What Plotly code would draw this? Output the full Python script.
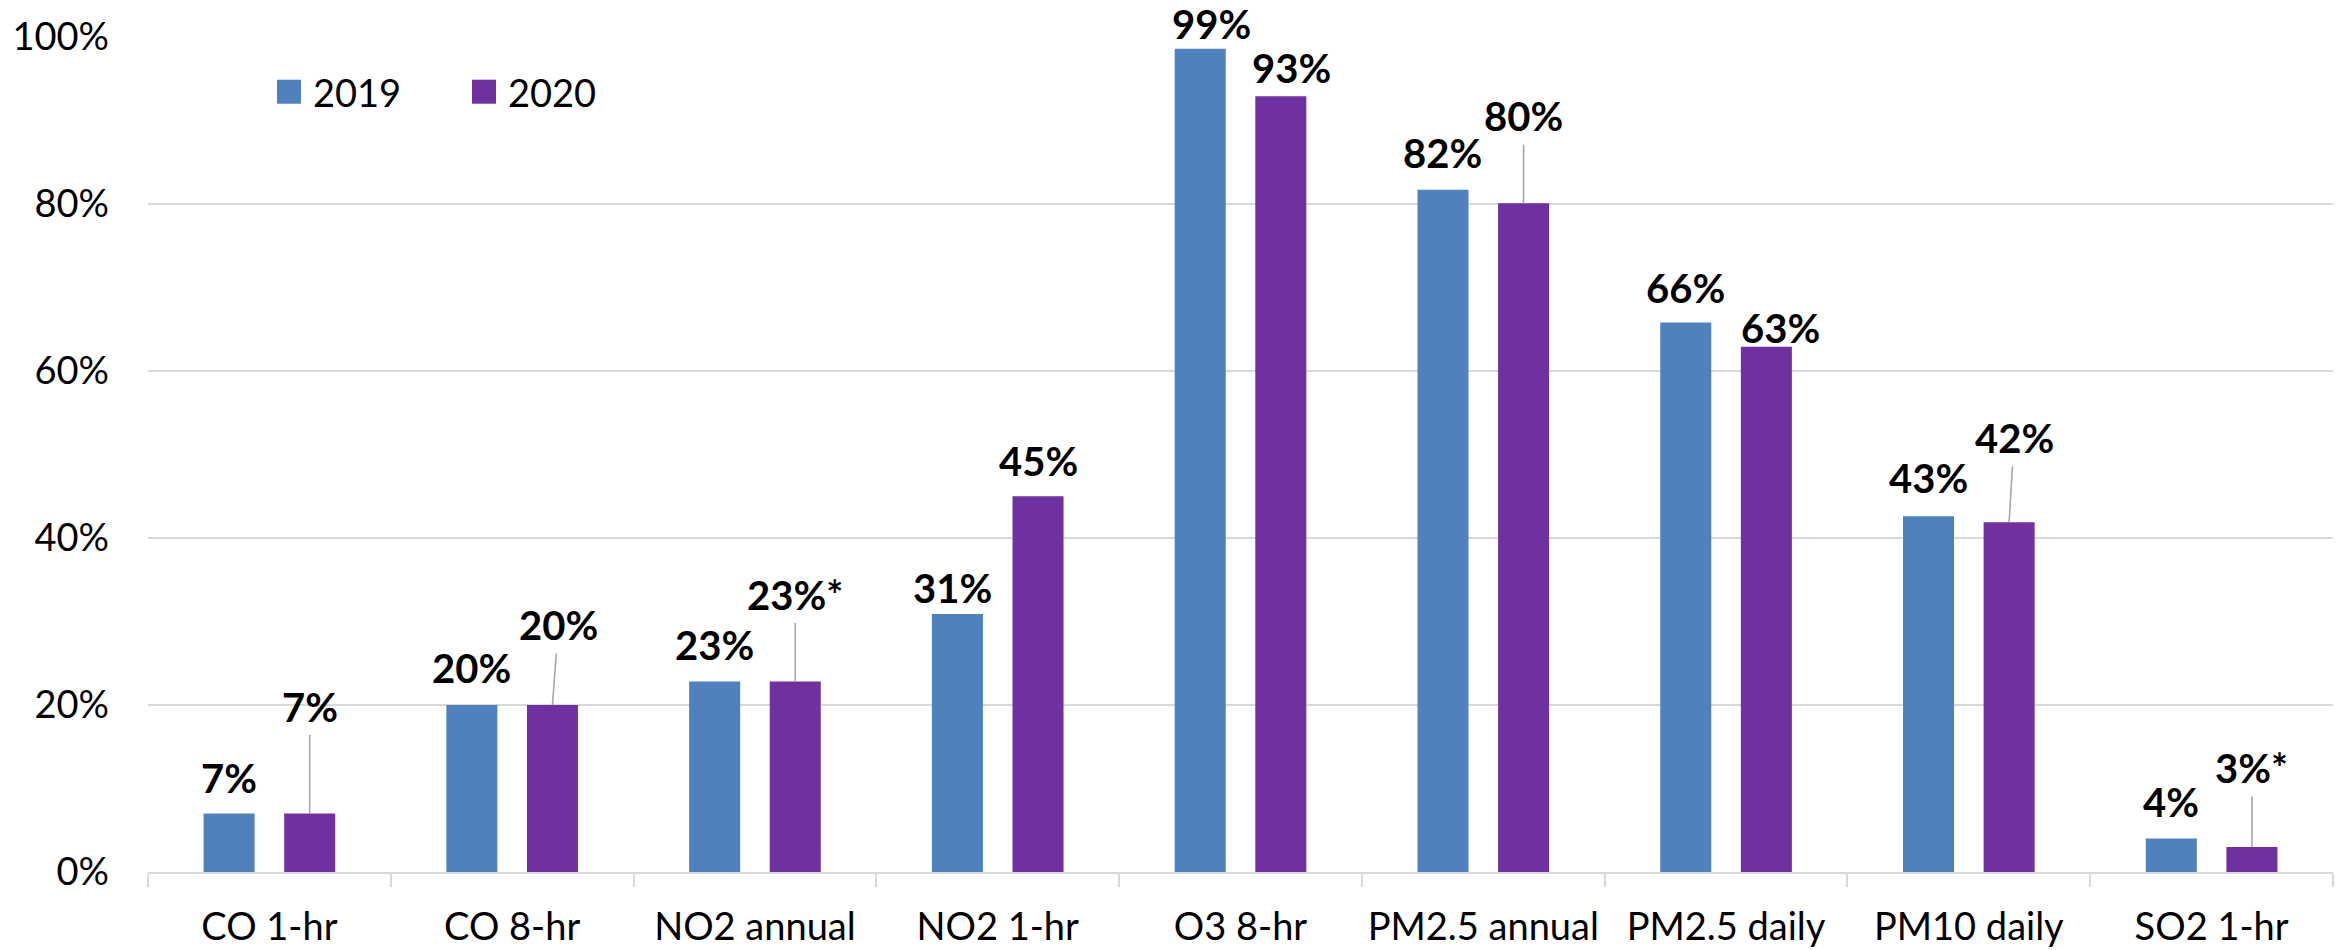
import plotly.graph_objects as go

# ---------------- data ----------------
categories = ["CO 1-hr", "CO 8-hr", "NO2 annual", "NO2 1-hr", "O3 8-hr",
              "PM2.5 annual", "PM2.5 daily", "PM10 daily", "SO2 1-hr"]
series_names = ["2019", "2020"]
values_2019 = [7.0, 20.0, 22.8, 30.9, 98.6, 81.7, 65.8, 42.6, 4.0]
values_2020 = [7.0, 20.0, 22.8, 45.0, 92.9, 80.1, 62.9, 41.9, 3.0]
labels_2019 = ["7%", "20%", "23%", "31%", "99%", "82%", "66%", "43%", "4%"]
labels_2020 = ["7%", "20%", "23%*", "45%", "93%", "80%", "63%", "42%", "3%*"]
y_ticks = [0, 20, 40, 60, 80, 100]
y_tick_labels = ["0%", "20%", "40%", "60%", "80%", "100%"]

# ---------------- styling / label placement ----------------
COLORS = ["#4F81BD", "#7030A0"]
GRID = "#D9D9D9"
LEADER = "#A6A6A6"
FONT = "Lato, 'Open Sans', sans-serif"
BARGAP = 0.336
BARGROUPGAP = 0.367

# pixel offsets (dx, dy) of data labels relative to bar top
shift_2019 = [(0, 36), (0, 37), (0, 37), (-5, 26), (11, 25), (0, 37), (0, 35), (0, 38), (0, 37)]
shift_2020 = [(0, 107), (6, 80), (0, 87), (0, 35), (11, 28), (0, 87), (14, 19), (5, 84), (0, 79)]
leader_2020 = [True, True, True, False, False, True, False, True, True]

fig = go.Figure()
for name, vals, col in zip(series_names, [values_2019, values_2020], COLORS):
    fig.add_trace(go.Bar(
        x=categories, y=vals, name=name,
        marker=dict(color=col, line=dict(width=0)),
        showlegend=False, cliponaxis=False,
    ))

half_slot = (1 - BARGAP) / 4.0
annotations = []
for s, (labels, vals, shifts) in enumerate([(labels_2019, values_2019, shift_2019),
                                             (labels_2020, values_2020, shift_2020)]):
    sign = -1 if s == 0 else 1
    for i, (lab, v, (dx, dy)) in enumerate(zip(labels, vals, shifts)):
        lead = (s == 1 and leader_2020[i])
        annotations.append(dict(
            x=i + sign * half_slot, y=v, xref="x", yref="y",
            text="<b>%s</b>" % lab,
            showarrow=True, arrowhead=0, standoff=0,
            arrowwidth=1.6 if lead else 0.1,
            arrowcolor=LEADER if lead else "rgba(0,0,0,0)",
            ax=dx, ay=-dy, axref="pixel", ayref="pixel",
            borderpad=4 if lead else 0,
            font=dict(family=FONT, size=40, color="#000000"),
        ))

# legend (drawn manually to match the large square swatches)
plot_l, plot_r, plot_t, plot_b = 148, 2333, 37.3, 872.0
def px_x(p):
    return (p - plot_l) / (plot_r - plot_l)
def px_y(p):
    return (plot_b - p) / (plot_b - plot_t)

shapes = []
legend_square_left = [277, 472]
legend_text_left = [312, 507]
for name, col, sq, tx in zip(series_names, COLORS, legend_square_left, legend_text_left):
    shapes.append(dict(type="rect", xref="paper", yref="paper",
                       x0=px_x(sq), x1=px_x(sq + 24), y0=px_y(104), y1=px_y(80),
                       fillcolor=col, line=dict(width=0)))
    annotations.append(dict(x=px_x(tx), y=px_y(92), xref="paper", yref="paper",
                            text=name, showarrow=False, xanchor="left", yanchor="middle",
                            borderpad=0,
                            font=dict(family=FONT, size=38, color="#000000")))

fig.update_layout(
    width=2339, height=950, autosize=False,
    margin=dict(l=plot_l, r=2339 - plot_r, t=plot_t, b=950 - plot_b, pad=0, autoexpand=False),
    paper_bgcolor="white", plot_bgcolor="white",
    barmode="group", bargap=BARGAP, bargroupgap=BARGROUPGAP,
    font=dict(family=FONT, size=38, color="#000000"),
    annotations=annotations, shapes=shapes,
    showlegend=False,
    xaxis=dict(type="category", categoryorder="array", categoryarray=categories,
               tickson="boundaries", ticks="outside", ticklen=13, tickwidth=2,
               tickcolor=GRID, showline=True, linecolor=GRID, linewidth=2,
               showgrid=False, zeroline=False, ticklabelstandoff=20, automargin=False,
               tickfont=dict(family=FONT, size=38, color="#000000")),
    xaxis2=dict(type="category", categoryorder="array", categoryarray=categories,
                overlaying="x", anchor="y", side="bottom", range=[-0.5, 8.5],
                tickson="boundaries", ticks="inside", ticklen=13, tickwidth=2,
                tickcolor=GRID, showticklabels=False, showline=False,
                showgrid=False, zeroline=False, automargin=False),
    yaxis=dict(range=[0, 100], tickvals=y_ticks, ticktext=y_tick_labels,
               showgrid=True, gridcolor=GRID, gridwidth=2, zeroline=False,
               showline=False, ticks="", ticklabelstandoff=38, automargin=False,
               tickfont=dict(family=FONT, size=38, color="#000000")),
)

fig.write_html("out.html", config={"displayModeBar": False},
               post_script="document.body.style.margin='0px';document.body.style.overflow='hidden';")
